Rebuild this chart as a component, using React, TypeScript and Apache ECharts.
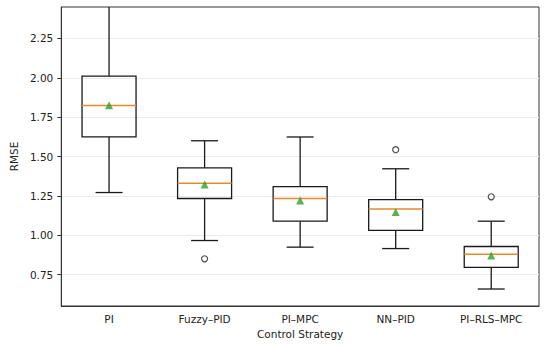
import React, { useEffect, useRef } from "react";
import * as echarts from "echarts";

const categories = ["PI", "Fuzzy\u2013PID", "PI\u2013MPC", "NN\u2013PID", "PI\u2013RLS\u2013MPC"];
// [lowWhisker, Q1, median, Q3, highWhisker]
const boxStats = [
  [1.271, 1.625, 1.824, 2.011, 2.6],
  [0.966, 1.233, 1.33, 1.428, 1.6],
  [0.924, 1.089, 1.233, 1.309, 1.624],
  [0.915, 1.03, 1.167, 1.226, 1.422],
  [0.658, 0.796, 0.879, 0.928, 1.089],
];
const means = [1.825, 1.322, 1.221, 1.148, 0.871];
const outliers: [number, number][] = [
  [1, 0.85],
  [3, 1.543],
  [4, 1.244],
];
const yTicks = [0.75, 1.0, 1.25, 1.5, 1.75, 2.0, 2.25];

export default function App() {
  const ref = useRef<HTMLDivElement>(null);
  useEffect(() => {
    if (!ref.current) return;
    const chart = echarts.init(ref.current, null, { renderer: "svg" });
    const font = "DejaVu Sans";
    const boxW = 54;
    const capW = 27;
    const lineColor = "#1a1a1a";
    chart.setOption({
      animation: false,
      grid: { left: 52, right: 11, top: 7, bottom: 42, show: true, borderColor: "#333", borderWidth: 1, backgroundColor: "transparent" },
      xAxis: {
        type: "category",
        data: categories,
        name: "Control Strategy",
        nameLocation: "middle",
        nameGap: 22,
        nameTextStyle: { fontFamily: font, fontSize: 10.5, color: "#222" },
        axisLine: { lineStyle: { color: "#333", width: 1 } },
        axisTick: { alignWithLabel: true, length: 4, lineStyle: { color: "#333" } },
        axisLabel: { fontFamily: font, fontSize: 10.5, color: "#222", margin: 7 },
        splitLine: { show: false },
      },
      yAxis: {
        type: "value",
        min: 0.55,
        max: 2.45,
        name: "RMSE",
        nameLocation: "middle",
        nameGap: 39,
        nameTextStyle: { fontFamily: font, fontSize: 10.5, color: "#222" },
        axisLine: { show: true, lineStyle: { color: "#333", width: 1 } },
        axisTick: { show: true, length: 4, lineStyle: { color: "#333" }, customValues: yTicks },
        axisLabel: {
          fontFamily: font,
          fontSize: 10.5,
          color: "#222",
          margin: 8,
          customValues: yTicks,
          formatter: (v: number) => v.toFixed(2),
        },
        splitLine: { show: true, lineStyle: { color: "#ececec", width: 1 } },
      },
      series: [
        {
          type: "custom",
          clip: true,
          data: boxStats.map((s, i) => [i, ...s]),
          renderItem: (params: any, api: any) => {
            const i = api.value(0);
            const lo = api.coord([i, api.value(1)]);
            const q1 = api.coord([i, api.value(2)]);
            const med = api.coord([i, api.value(3)]);
            const q3 = api.coord([i, api.value(4)]);
            const hi = api.coord([i, api.value(5)]);
            const x = lo[0];
            const st = { stroke: lineColor, lineWidth: 1.3, fill: null };
            return {
              type: "group",
              children: [
                { type: "line", shape: { x1: x, y1: q1[1], x2: x, y2: lo[1] }, style: st },
                { type: "line", shape: { x1: x, y1: q3[1], x2: x, y2: hi[1] }, style: st },
                { type: "line", shape: { x1: x - capW / 2, y1: lo[1], x2: x + capW / 2, y2: lo[1] }, style: st },
                { type: "line", shape: { x1: x - capW / 2, y1: hi[1], x2: x + capW / 2, y2: hi[1] }, style: st },
                {
                  type: "rect",
                  shape: { x: x - boxW / 2, y: q3[1], width: boxW, height: q1[1] - q3[1] },
                  style: { stroke: lineColor, lineWidth: 1.3, fill: "rgba(255,255,255,0)" },
                },
                {
                  type: "line",
                  shape: { x1: x - boxW / 2, y1: med[1], x2: x + boxW / 2, y2: med[1] },
                  style: { stroke: "#e8892b", lineWidth: 1.5 },
                },
              ],
            };
          },
          z: 2,
        },
        {
          type: "scatter",
          data: means.map((m, i) => [i, m]),
          symbol: "triangle",
          symbolSize: 8,
          itemStyle: { color: "#2ca02c" },
          z: 4,
        },
        {
          type: "scatter",
          data: outliers,
          symbol: "circle",
          symbolSize: 6,
          itemStyle: { color: "#fff", borderColor: "#222", borderWidth: 1.2 },
          z: 4,
        },
      ],
    });
    return () => chart.dispose();
  }, []);
  return <div ref={ref} style={{ width: 550, height: 348, position: "absolute", left: 0, top: 0 }} />;
}
